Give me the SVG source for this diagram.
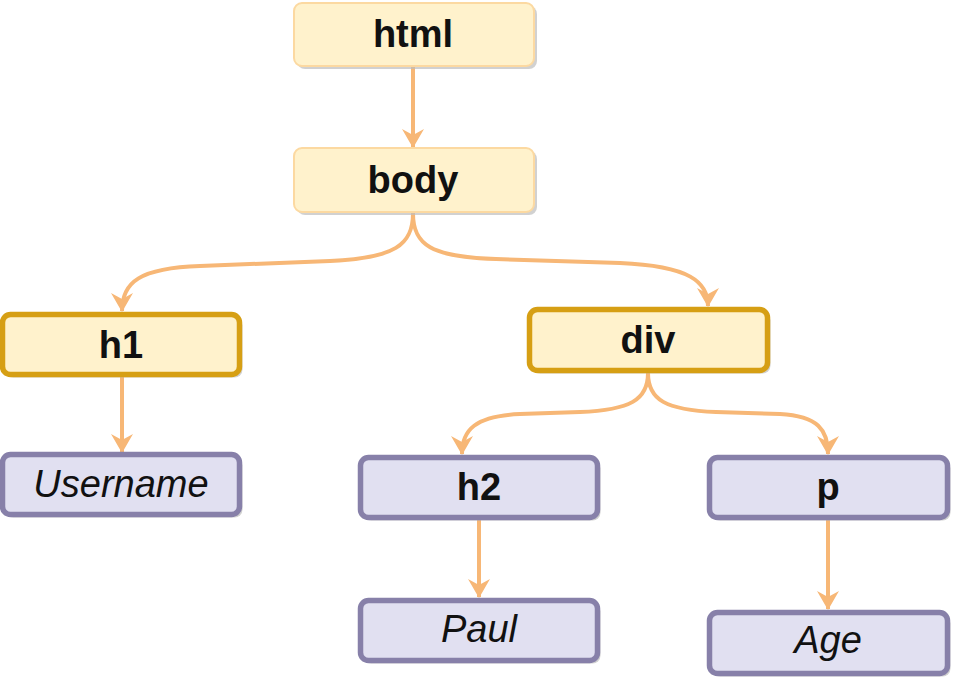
<svg xmlns="http://www.w3.org/2000/svg" width="954" height="680" viewBox="0 0 954 680">
<style>
.shadow{fill:#bdbdbd;opacity:0.7}
.top{fill:#fff2cc;stroke:#fcd9a1;stroke-width:2}
.gold{fill:#fff2cc;stroke:#d69f14;stroke-width:5.5}
.purple{fill:#e1e0f1;stroke:#8780a9;stroke-width:5.5}
.bt{font-family:"Liberation Sans",Arial,sans-serif;font-weight:bold;font-size:38px;fill:#111;text-anchor:middle}
.it{font-family:"Liberation Sans",Arial,sans-serif;font-style:italic;font-size:38px;fill:#111;text-anchor:middle}
.edge{fill:none;stroke:#f7b776;stroke-width:4;marker-end:url(#arr)}
</style>
<defs>
<marker id="arr" markerUnits="userSpaceOnUse" viewBox="0 0 19 22" markerWidth="19" markerHeight="22" refX="18" refY="11" orient="auto">
<path d="M0,0 L19,11 L0,22 L6,11 z" fill="#f7b776"/>
</marker>
</defs>
<g id="connectors">
<path class="edge" d="M413,67 L413,147"/>
<path class="edge" d="M413,213 C413,245 395,258 330,261 L200,266 C140,268 122,282 122,311"/>
<path class="edge" d="M413,213 C413,245 431,257 496,259 L620,263 C690,266 708,282 708,306"/>
<path class="edge" d="M122,377 L122,452"/>
<path class="edge" d="M648,373 C648,400 630,410 580,412 L520,414 C475,416 462,430 462,454"/>
<path class="edge" d="M648,373 C648,400 666,410 716,412 L780,414 C818,416 828,430 828,454"/>
<path class="edge" d="M479,520 L479,597"/>
<path class="edge" d="M828,520 L828,609"/>
</g>
<g id="node-html">
<rect class="shadow" x="297" y="6" width="240" height="63" rx="8"/>
<rect class="top" x="294" y="3" width="240" height="63" rx="8"/>
<text class="bt" x="413" y="47">html</text>
</g>
<g id="node-body">
<rect class="shadow" x="297" y="151" width="240" height="64" rx="8"/>
<rect class="top" x="294" y="148" width="240" height="64" rx="8"/>
<text class="bt" x="413" y="193">body</text>
</g>
<g id="node-h1">
<rect class="shadow" x="5.5" y="317.5" width="237" height="60" rx="8"/>
<rect class="gold" x="2.5" y="314.5" width="237" height="60" rx="8"/>
<text class="bt" x="121" y="358">h1</text>
</g>
<g id="node-div">
<rect class="shadow" x="532.5" y="312.5" width="238" height="61" rx="8"/>
<rect class="gold" x="529.5" y="309.5" width="238" height="61" rx="8"/>
<text class="bt" x="648" y="353">div</text>
</g>
<g id="node-username">
<rect class="shadow" x="5.5" y="457.5" width="237" height="60" rx="8"/>
<rect class="purple" x="2.5" y="454.5" width="237" height="60" rx="8"/>
<text class="it" x="121" y="497">Username</text>
</g>
<g id="node-h2">
<rect class="shadow" x="363.5" y="460.5" width="237" height="60" rx="8"/>
<rect class="purple" x="360.5" y="457.5" width="237" height="60" rx="8"/>
<text class="bt" x="479" y="500">h2</text>
</g>
<g id="node-p">
<rect class="shadow" x="712.5" y="460.5" width="238" height="60" rx="8"/>
<rect class="purple" x="709.5" y="457.5" width="238" height="60" rx="8"/>
<text class="bt" x="828" y="500">p</text>
</g>
<g id="node-paul">
<rect class="shadow" x="363.5" y="603.5" width="237" height="60" rx="8"/>
<rect class="purple" x="360.5" y="600.5" width="237" height="60" rx="8"/>
<text class="it" x="479" y="642">Paul</text>
</g>
<g id="node-age">
<rect class="shadow" x="712.5" y="615.5" width="238" height="61" rx="8"/>
<rect class="purple" x="709.5" y="612.5" width="238" height="61" rx="8"/>
<text class="it" x="828" y="653">Age</text>
</g>
</svg>
